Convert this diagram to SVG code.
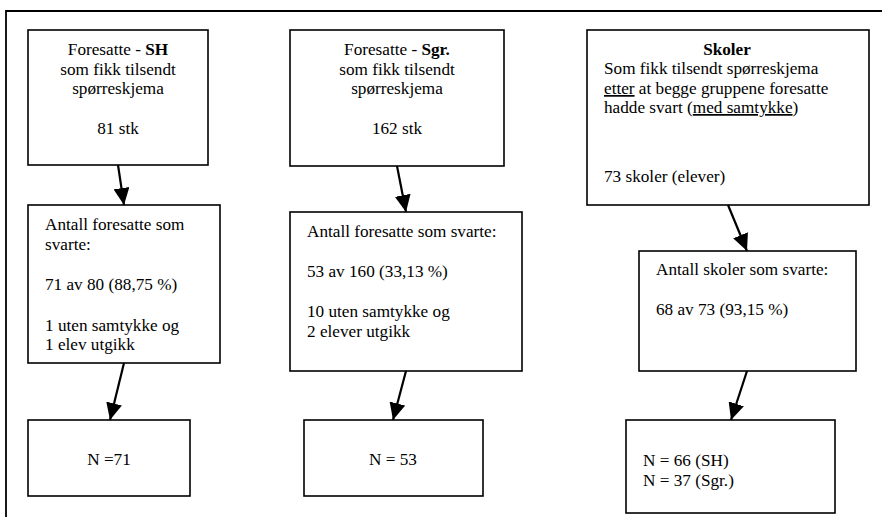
<svg xmlns="http://www.w3.org/2000/svg" width="882" height="517" viewBox="0 0 882 517">
<defs>
<style>
.box{fill:#fff;stroke:#000;stroke-width:1.6}
.t text{font-size:17.2px;fill:#000}
.c{text-anchor:middle}
.b{font-weight:bold}
.u{text-decoration:underline}
.conn line{stroke:#000;stroke-width:2.2;marker-end:url(#ah)}
</style>
<marker id="ah" markerUnits="userSpaceOnUse" markerWidth="18" markerHeight="16" refX="17" refY="8" orient="auto">
<path d="M0,0 L17,8 L0,16 z" fill="#000"/>
</marker>
</defs>
<rect width="882" height="517" fill="#fff"/>
<path d="M6,517 V11 H882" fill="none" stroke="#000" stroke-width="1.8"/>

<g class="t" font-family="'Liberation Serif', 'Times New Roman', serif">
<g id="n1">
<rect class="box" x="28" y="30" width="180" height="135"/>
<text class="c" x="118" y="55">Foresatte - <tspan class="b">SH</tspan></text>
<text class="c" x="118" y="75">som fikk tilsendt</text>
<text class="c" x="118" y="94">spørreskjema</text>
<text class="c" x="118" y="134">81 stk</text>
</g>
<g id="n2">
<rect class="box" x="290" y="30" width="214" height="136"/>
<text class="c" x="397" y="55">Foresatte - <tspan class="b">Sgr.</tspan></text>
<text class="c" x="397" y="75">som fikk tilsendt</text>
<text class="c" x="397" y="94">spørreskjema</text>
<text class="c" x="397" y="134">162 stk</text>
</g>
<g id="n3">
<rect class="box" x="587" y="30" width="282" height="175"/>
<text class="c b" x="727" y="55">Skoler</text>
<text x="604" y="74">Som fikk tilsendt spørreskjema</text>
<text x="604" y="94"><tspan class="u">etter</tspan> at begge gruppene foresatte</text>
<text x="604" y="113">hadde svart (<tspan class="u">med samtykke</tspan>)</text>
<text x="604" y="182">73 skoler (elever)</text>
</g>
<g id="n4">
<rect class="box" x="28" y="205" width="192" height="158"/>
<text x="45" y="230">Antall foresatte som</text>
<text x="45" y="250">svarte:</text>
<text x="45" y="290">71 av 80 (88,75 %)</text>
<text x="45" y="331">1 uten samtykke og</text>
<text x="45" y="350">1 elev utgikk</text>
</g>
<g id="n5">
<rect class="box" x="290" y="212" width="232" height="159"/>
<text x="307" y="237">Antall foresatte som svarte:</text>
<text x="307" y="277">53 av 160 (33,13 %)</text>
<text x="307" y="317">10 uten samtykke og</text>
<text x="307" y="337">2 elever utgikk</text>
</g>
<g id="n6">
<rect class="box" x="639" y="251" width="217" height="120"/>
<text x="656" y="275">Antall skoler som svarte:</text>
<text x="656" y="315">68 av 73 (93,15 %)</text>
</g>
<g id="n7">
<rect class="box" x="28" y="420" width="162" height="76"/>
<text class="c" x="109" y="465">N =71</text>
</g>
<g id="n8">
<rect class="box" x="304" y="420" width="179" height="76"/>
<text class="c" x="393" y="465">N = 53</text>
</g>
<g id="n9">
<rect class="box" x="626" y="420" width="209" height="93"/>
<text x="643" y="466">N = 66 (SH)</text>
<text x="643" y="486">N = 37 (Sgr.)</text>
</g>
</g>

<g id="connectors" class="conn">
<line x1="118" y1="165" x2="124" y2="205"/>
<line x1="397" y1="166" x2="406" y2="212"/>
<line x1="728" y1="205" x2="747" y2="251"/>
<line x1="124" y1="363" x2="110" y2="420"/>
<line x1="406" y1="371" x2="393" y2="420"/>
<line x1="747" y1="371" x2="731" y2="420"/>
</g>
</svg>
